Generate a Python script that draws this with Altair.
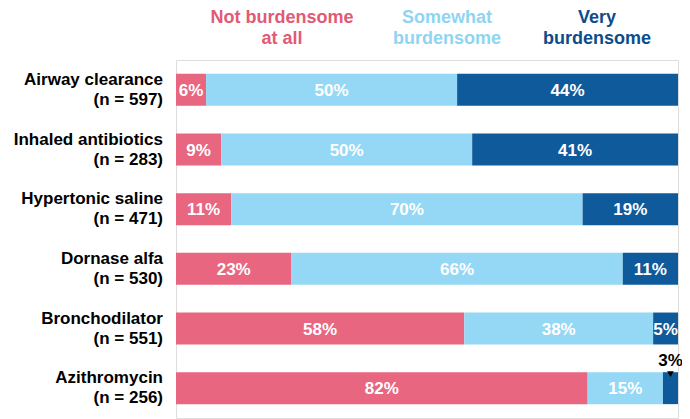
import altair as alt
import pandas as pd

drugs = ["Airway clearance", "Inhaled antibiotics", "Hypertonic saline",
         "Dornase alfa", "Bronchodilator", "Azithromycin"]
n_labels = ["(n = 597)", "(n = 283)", "(n = 471)", "(n = 530)", "(n = 551)", "(n = 256)"]
categories = ["Not burdensome at all", "Somewhat burdensome", "Very burdensome"]
not_burden = [6, 9, 11, 23, 58, 82]
somewhat = [50, 50, 70, 66, 38, 15]
very = [44, 41, 19, 11, 5, 3]
colors = ["#E8667F", "#95D8F5", "#0F5A9A"]
header_colors = ["#E05A76", "#8FD5F2", "#0D4C8A"]
header_line1 = ["Not burdensome", "Somewhat", "Very"]
header_line2 = ["at all", "burdensome", "burdensome"]

rows = []
for i, d in enumerate(drugs):
    for j, vals in enumerate([not_burden, somewhat, very]):
        rows.append({"drug": d, "cat": categories[j], "order": j, "value": vals[i]})
df = pd.DataFrame(rows)
labels_df = pd.DataFrame({"drug": drugs, "n": n_labels})
head_df = pd.DataFrame({"cat": categories, "l1": header_line1, "l2": header_line2,
                        "hx": [106, 271, 421]})

FONT = "Liberation Sans"
yenc = alt.Y("drug:N", sort=drugs, axis=None,
             scale=alt.Scale(paddingInner=0.465, paddingOuter=0.2325))
xscale = alt.Scale(domain=[0, 1])
cscale = alt.Scale(domain=categories, range=colors)

base = alt.Chart(df).transform_joinaggregate(
    total="sum(value)", groupby=["drug"]
).transform_calculate(
    pct="datum.value / datum.total", label="datum.value + '%'"
).transform_stack(
    stack="pct", groupby=["drug"], as_=["x0", "x1"],
    sort=[alt.SortField("order", order="ascending")]
).transform_calculate(mid="(datum.x0 + datum.x1) / 2")

bars = base.mark_bar().encode(
    x=alt.X("x0:Q", scale=xscale, axis=None),
    x2="x1:Q",
    y=yenc,
    color=alt.Color("cat:N", scale=cscale, legend=None),
)

inside = base.transform_filter("datum.value >= 4").mark_text(
    font=FONT, fontWeight="bold", fontSize=17, color="white", baseline="middle", dy=1
).encode(x=alt.X("mid:Q", scale=xscale), y=yenc, text="label:N")

above = base.transform_filter("datum.value < 4").mark_text(
    font=FONT, fontWeight="bold", fontSize=17, color="black", baseline="alphabetic", dy=-22
).encode(x=alt.X("mid:Q", scale=xscale), y=yenc, text="label:N")

tri = base.transform_filter("datum.value < 4").mark_point(
    shape="triangle-down", filled=True, color="black", size=45, opacity=1, yOffset=-14
).encode(x=alt.X("mid:Q", scale=xscale), y=yenc)

name1 = alt.Chart(labels_df).mark_text(
    font=FONT, fontWeight="bold", fontSize=17, align="right", baseline="alphabetic",
    dy=-5, color="black"
).encode(x=alt.value(-13), y=yenc, text="drug:N")
name2 = alt.Chart(labels_df).mark_text(
    font=FONT, fontWeight="bold", fontSize=17, align="right", baseline="alphabetic",
    dy=15, color="black"
).encode(x=alt.value(-13), y=yenc, text="n:N")

hscale = alt.Scale(domain=categories, range=header_colors)
h1 = alt.Chart(head_df).mark_text(
    font=FONT, fontWeight="bold", fontSize=18, align="center", baseline="alphabetic"
).encode(x=alt.X("hx:Q", scale=None), y=alt.value(-37), text="l1:N",
         color=alt.Color("cat:N", scale=hscale, legend=None))
h2 = alt.Chart(head_df).mark_text(
    font=FONT, fontWeight="bold", fontSize=18, align="center", baseline="alphabetic"
).encode(x=alt.X("hx:Q", scale=None), y=alt.value(-16), text="l2:N",
         color=alt.Color("cat:N", scale=hscale, legend=None))

chart = alt.layer(bars, inside, above, tri, name1, name2, h1, h2).resolve_scale(
    color="independent"
).properties(
    width=502, height=358,
    autosize=alt.AutoSizeParams(type="none"),
    padding={"left": 168, "top": 52, "right": 4, "bottom": 1},
).configure_view(stroke=None).configure(background="white")

chart.save("out.html", embed_options={"renderer": "svg", "actions": False})
